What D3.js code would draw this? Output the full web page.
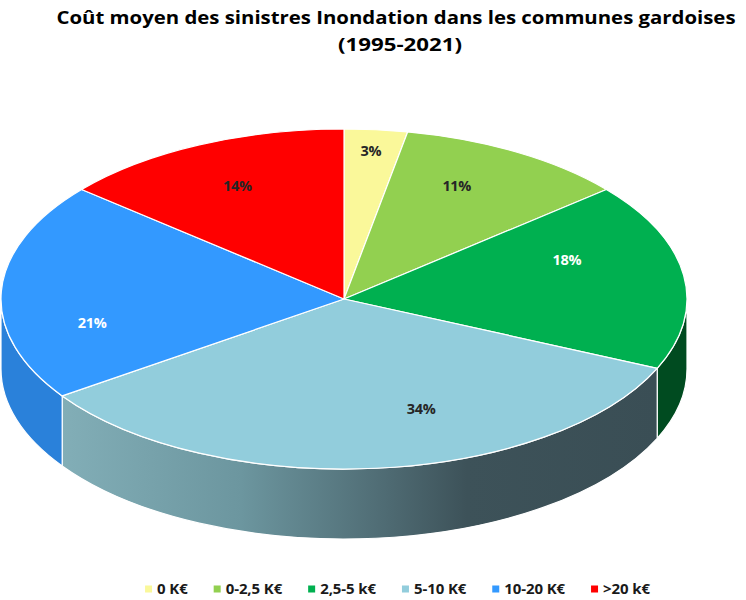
<!DOCTYPE html>
<html>
<head>
<meta charset="utf-8">
<script src="https://cdn.jsdelivr.net/npm/d3@7"></script>
<style>
  html, body { margin: 0; padding: 0; background: #fff; }
  svg { display: block; }
</style>
</head>
<body>
<svg id="chart" width="746" height="600"></svg>
<script>
// ---- data ----
const categories = ["0 K€", "0-2,5 K€", "2,5-5 k€", "5-10 K€", "10-20 K€", ">20 k€"];
const values = [3, 11, 18, 34, 21, 14];
const labels = ["3%", "11%", "18%", "34%", "21%", "14%"];
const title = ["Coût moyen des sinistres Inondation dans les communes gardoises", "(1995-2021)"];

// ---- styles ----
const topColors = ["#FAF89A", "#92D050", "#00B050", "#92CDDC", "#3399FF", "#FF0000"];
const sideColors = ["#C8C67B", "#6E9E3C", "#004B20", "url(#sideGrad)", "#2A81DA", "#B00000"];
const labelColors = ["#262626", "#262626", "#FFFFFF", "#262626", "#FFFFFF", "#262626"];
// label placement tweaks (angle offset in degrees, radius fraction) mimicking Excel's 3D placement
const labelAngleShift = [-0.2, -4, -11.4, -13.8, -13.6, -0.1];
const labelRadius = [0.874, 0.742, 0.689, 0.685, 0.748, 0.734];

const font = "'Open Sans', 'DejaVu Sans', sans-serif";
const svg = d3.select("#chart");
const cx = 344, cy = 299, rx = 343, ry = 170, depth = 70;

const defs = svg.append("defs");
const g1 = defs.append("linearGradient").attr("id", "sideGrad")
  .attr("x1", 0).attr("x2", 1).attr("y1", 0).attr("y2", 0);
[[0, "#82AEB7"], [0.3, "#6C969F"], [0.55, "#4E6A72"], [0.68, "#3D5259"], [1, "#3A4E55"]]
  .forEach(([o, c]) => g1.append("stop").attr("offset", o).attr("stop-color", c));

const pie = d3.pie().sort(null).value(d => d).startAngle(0).endAngle(2 * Math.PI);
const arcs = pie(values);

const pt = (a, dz = 0) => [cx + rx * Math.sin(a), cy - ry * Math.cos(a) + dz];

function topPath(d) {
  const p0 = pt(d.startAngle), p1 = pt(d.endAngle);
  const large = (d.endAngle - d.startAngle) > Math.PI ? 1 : 0;
  return `M${cx},${cy}L${p0[0]},${p0[1]}A${rx},${ry} 0 ${large} 1 ${p1[0]},${p1[1]}Z`;
}
function sidePath(d) {
  const s0 = Math.max(d.startAngle, Math.PI / 2), s1 = Math.min(d.endAngle, 3 * Math.PI / 2);
  if (s1 <= s0) return null;
  const a = pt(s0), b = pt(s1), c = pt(s1, depth), e = pt(s0, depth);
  return `M${a[0]},${a[1]}A${rx},${ry} 0 0 1 ${b[0]},${b[1]}L${c[0]},${c[1]}A${rx},${ry} 0 0 0 ${e[0]},${e[1]}Z`;
}

// sides
svg.append("g").selectAll("path").data(arcs.filter(d => sidePath(d)))
  .join("path")
  .attr("d", sidePath)
  .attr("fill", d => sideColors[d.index])
  .attr("stroke", "#fff").attr("stroke-width", 1.2).attr("stroke-linejoin", "round");

// tops
svg.append("g").selectAll("path").data(arcs)
  .join("path")
  .attr("d", topPath)
  .attr("fill", d => topColors[d.index])
  .attr("stroke", "#fff").attr("stroke-width", 1.2).attr("stroke-linejoin", "round");

// labels
const labAng = d => (d.startAngle + d.endAngle) / 2 + labelAngleShift[d.index] * Math.PI / 180;
svg.append("g").selectAll("text").data(arcs)
  .join("text")
  .attr("x", d => cx + labelRadius[d.index] * rx * Math.sin(labAng(d)))
  .attr("y", d => cy - labelRadius[d.index] * ry * Math.cos(labAng(d)))
  .attr("dy", "0.36em")
  .attr("text-anchor", "middle")
  .attr("font-family", font).attr("font-weight", "bold").attr("font-size", 14.5)
  .attr("letter-spacing", -0.3)
  .attr("fill", d => labelColors[d.index])
  .text(d => labels[d.index]);

// title
svg.append("text").attr("x", 396).attr("y", 24).attr("text-anchor", "middle")
  .attr("font-family", font).attr("font-weight", "bold").attr("font-size", 18.5)
  .attr("textLength", 679).attr("lengthAdjust", "spacingAndGlyphs")
  .attr("fill", "#000").text(title[0]);
svg.append("text").attr("x", 400).attr("y", 51).attr("text-anchor", "middle")
  .attr("font-family", font).attr("font-weight", "bold").attr("font-size", 18.5)
  .attr("textLength", 124).attr("lengthAdjust", "spacingAndGlyphs")
  .attr("fill", "#000").text(title[1]);

// legend
const leg = svg.append("g");
let x = 0;
const ly = 589;
categories.forEach((c, i) => {
  const gi = leg.append("g");
  gi.append("rect").attr("x", x).attr("y", ly - 3.5).attr("width", 7).attr("height", 7)
    .attr("fill", topColors[i]);
  const t = gi.append("text").attr("x", x + 12).attr("y", ly).attr("dy", "0.36em")
    .attr("font-family", font).attr("font-weight", "bold").attr("font-size", 15)
    .attr("letter-spacing", -0.1)
    .attr("fill", "#1a1a1a").text(c);
  x += 12 + t.node().getComputedTextLength() + (i < categories.length - 1 ? 26 : 0);
});
leg.attr("transform", `translate(${397.5 - x / 2},0)`);
</script>
</body>
</html>
